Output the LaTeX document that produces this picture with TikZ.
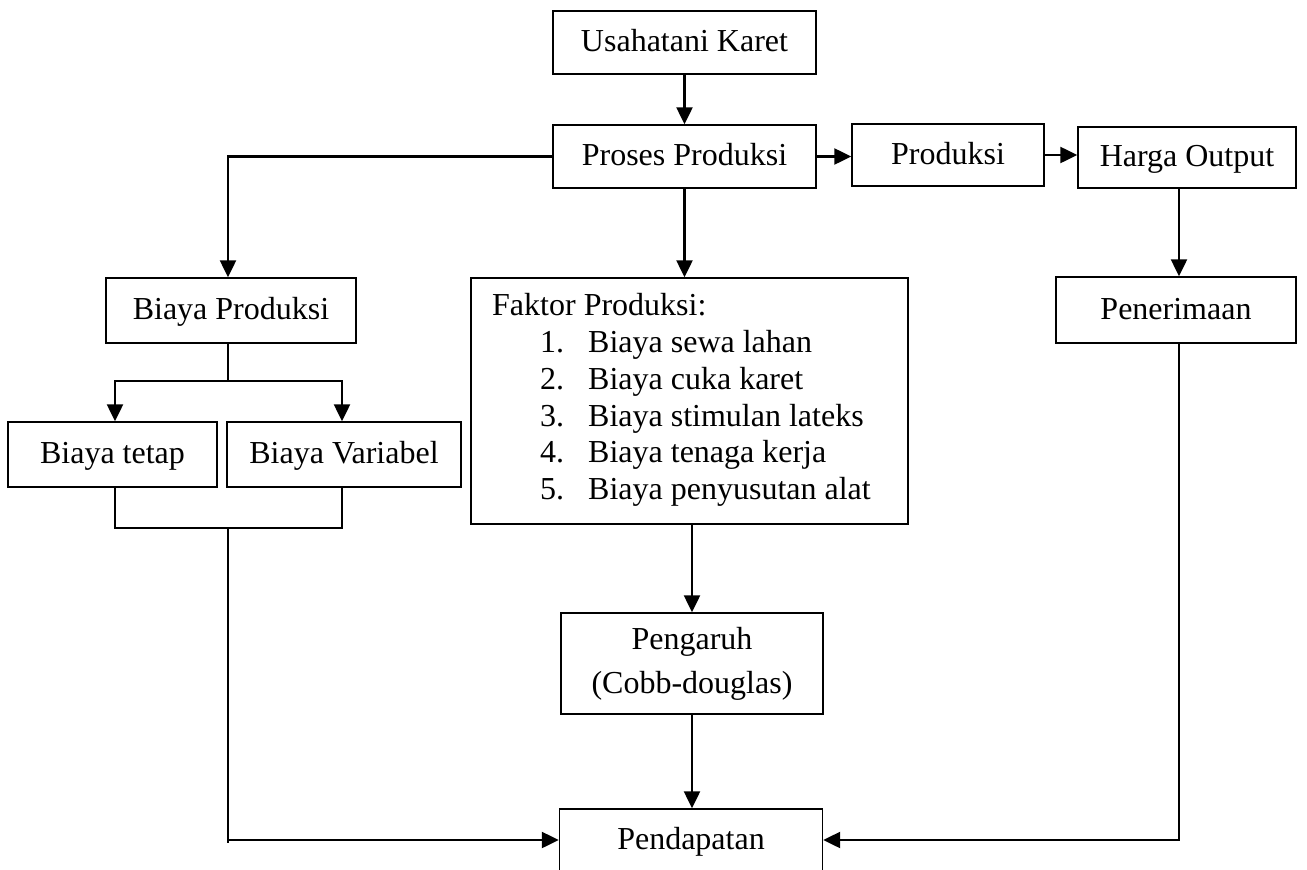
\documentclass[tikz,border=0pt]{standalone}
\usepackage{fontspec}
\setmainfont{Liberation Serif}
\usetikzlibrary{arrows.meta}
\begin{document}
\begin{tikzpicture}[x=1pt,y=-1pt,
  box/.style={draw=black, line width=1.4pt, inner sep=0pt, rectangle, align=center,
    font=\fontsize{32}{36.8}\selectfont},
  oneline/.style={text height=25pt, text depth=7pt},
  conn/.style={line width=2.3pt, line join=miter},
  arr/.style={conn, -{Triangle[length=17pt,width=16pt]}},
  txt/.style={inner sep=0pt, anchor=base west, font=\fontsize{32}{36.8}\selectfont}]
\useasboundingbox (0,0) rectangle (1307,870);
\clip (0,0) rectangle (1307,870);
% boxes
\node[box, oneline, minimum width=263pt, minimum height=63pt] (usa) at (684.5,42.5) {Usahatani Karet};
\node[box, oneline, minimum width=263pt, minimum height=63pt] (pro) at (684.5,156.5) {Proses Produksi};
\node[box, oneline, minimum width=192pt, minimum height=62pt] (prd) at (948,155) {Produksi};
\node[box, oneline, minimum width=218pt, minimum height=61pt] (har) at (1187,157.5) {Harga Output};
\node[box, oneline, minimum width=250pt, minimum height=65pt] (bpr) at (231,310.5) {Biaya Produksi};
\node[box, minimum width=437pt, minimum height=246pt] (fak) at (689.5,401) {};
\node[box, oneline, minimum width=240pt, minimum height=66pt] (pen) at (1176,310) {Penerimaan};
\node[box, oneline, minimum width=209pt, minimum height=65pt] (bte) at (112.5,454.5) {Biaya tetap};
\node[box, oneline, minimum width=234pt, minimum height=65pt] (bva) at (344,454.5) {Biaya Variabel};
\node[box, minimum width=262pt, minimum height=101pt] (pgr) at (692,663.5) {Pengaruh\\[7pt](Cobb-douglas)};
\node[box, oneline, minimum width=263pt, minimum height=63pt] (pdp) at (691,840.5) {Pendapatan};
% Faktor Produksi list
\node[txt] (f0) at (492,315) {Faktor Produksi:};
\node[txt] (n1) at (540,352) {1.};
\node[txt] (t1) at (588,352) {Biaya sewa lahan};
\node[txt] (n2) at (540,389) {2.};
\node[txt] (t2) at (588,389) {Biaya cuka karet};
\node[txt] (n3) at (540,426) {3.};
\node[txt] (t3) at (588,426) {Biaya stimulan lateks};
\node[txt] (n4) at (540,462) {4.};
\node[txt] (t4) at (588,462) {Biaya tenaga kerja};
\node[txt] (n5) at (540,499) {5.};
\node[txt] (t5) at (588,499) {Biaya penyusutan alat};
% coordinates
\coordinate (sp) at (228,381);
\coordinate (mg) at (228,528);
\coordinate (lb) at (228,843);
\coordinate (la) at (228,840);
\coordinate (rb) at (1179,840);
% connectors
\draw[arr] (usa.south) -- (pro.north);
\draw[arr] (pro.west) -| (sp |- bpr.north);
\draw[arr] (pro.east) -- (pro.east -| prd.west);
\draw[arr] (prd.east) -- (prd.east -| har.west);
\draw[arr] (pro.south) -- (pro.south |- fak.north);
\draw[arr] (rb |- har.south) -- (rb |- pen.north);
\draw[conn] (sp |- bpr.south) -- (sp);
\draw[arr] (sp) -| ([xshift=2.5pt]bte.north);
\draw[arr] (sp) -| ([xshift=-2pt]bva.north);
\draw[conn] ([xshift=2.5pt]bte.south) |- (mg) -| ([xshift=-2pt]bva.south);
\draw[conn] (mg) -- (lb);
\draw[arr] (la) -- (la -| pdp.west);
\draw[arr] (fak.south -| pgr.north) -- (pgr.north);
\draw[arr] (pgr.south) -- (pgr.south |- pdp.north);
\draw[arr] (rb |- pen.south) -- (rb) -- (rb -| pdp.east);
\end{tikzpicture}
\end{document}
